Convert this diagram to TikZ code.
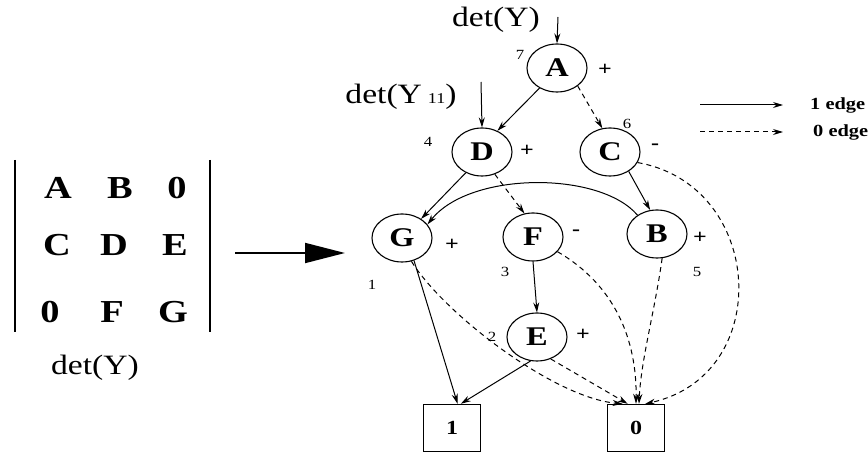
\documentclass[tikz,border=0pt]{standalone}
\usepackage{fontspec}
\setmainfont{Liberation Serif}[FakeStretch=1.2]
\usetikzlibrary{shapes.geometric,arrows.meta}
\begin{document}
\begin{tikzpicture}[x=1pt,y=-1pt,
  st/.style={ellipse,draw,line width=1.1pt,minimum width=60pt,minimum height=48pt,inner sep=0pt,font=\fontsize{27}{27}\selectfont\bfseries},
  term/.style={rectangle,draw,line width=1.4pt,minimum width=57pt,minimum height=47pt,inner sep=0pt,font=\fontsize{20}{20}\selectfont\bfseries},
  one/.style={line width=1pt,-{Stealth[length=10pt,width=6pt]}},
  zero/.style={one,dash pattern=on 5pt off 4pt},
  num/.style={font=\fontsize{14}{14}\selectfont,inner sep=0pt},
  sgn/.style={font=\fontsize{20}{20}\selectfont\bfseries,inner sep=0pt},
  mat/.style={font=\fontsize{32}{32}\selectfont\bfseries,inner sep=0pt},
  big/.style={font=\fontsize{28}{28}\selectfont,inner sep=0pt},
  leg/.style={font=\fontsize{17}{17}\selectfont\bfseries,inner sep=0pt,anchor=west}
]
\useasboundingbox (0,0) rectangle (868,454);

% matrix
\coordinate (bl1) at (15,160); \coordinate (bl2) at (15,332);
\coordinate (br1) at (210,160); \coordinate (br2) at (210,332);
\draw[line width=1.6pt] (bl1) -- (bl2);
\draw[line width=1.6pt] (br1) -- (br2);
\node[mat] (m11) at (58,188) {A};
\node[mat] (m12) at (120,188) {B};
\node[mat] (m13) at (177,188) {0};
\node[mat] (m21) at (57,245) {C};
\node[mat] (m22) at (114,245) {D};
\node[mat] (m23) at (175,245) {E};
\node[mat] (m31) at (50,312) {0};
\node[mat] (m32) at (112,312) {F};
\node[mat] (m33) at (173,312) {G};
\node[big] (detbot) at (95,368) {det(Y)};

% big arrow
\coordinate (bigs) at (235,253); \coordinate (bige) at (345,253);
\draw[line width=1.8pt,-{Triangle[length=40pt,width=20pt]}] (bigs) -- (bige);

% BDD nodes
\node[st] (A) at (557,68) {A};
\node[st] (D) at (482,152) {D};
\node[st] (C) at (610,152) {C};
\node[st] (G) at (402,238) {G};
\node[st] (F) at (533,237) {F};
\node[st] (B) at (657,234) {B};
\node[st] (E) at (537,337) {E};
\node[term] (b1) at (452,428) {1};
\node[term] (b0) at (636,428) {0};

% numbers
\node[num] (n7) at (520,55) {7};
\node[num] (n4) at (428,142) {4};
\node[num] (n6) at (627,124) {6};
\node[num] (n1) at (372,285) {1};
\node[num] (n3) at (505,272) {3};
\node[num] (n5) at (697,272) {5};
\node[num] (n2) at (492,337) {2};

% signs
\node[sgn] (sA) at (605,70) {+};
\node[sgn] (sD) at (527,151) {+};
\node[sgn] (sC) at (655,147) {-};
\node[sgn] (sG) at (452,245) {+};
\node[sgn] (sF) at (576,233) {-};
\node[sgn] (sB) at (700,238) {+};
\node[sgn] (sE) at (583,335) {+};

% entry labels
\node[big] (dettop) at (496,20) {det(Y)};
\coordinate (topin) at (558,17);
\draw[one] (topin) -- (A.north);
\node[big] (det11) at (401,97) {det(Y\hspace{6pt}{\fontsize{15}{15}\selectfont 11})};
\coordinate (din) at (481,82);
\draw[one] (din) -- (D.north);

% edges
\draw[one] (A.229) -- (D.54);
\draw[zero] (A.319) -- (C.108);
\draw[one] (D.232) -- (G.45);
\draw[zero] (D.300) -- (F.110);
\draw[one] (C.314) -- (B.106);
\draw[one] (B.136) .. controls (600,171) and (470,171) .. (G.28);
\draw[one] (F.south) -- (E.north);
\draw[zero] (F.329) .. controls (615,285) and (637,340) .. (b0.90);
\draw[zero] (B.282) .. controls (655,310) and (641,360) .. (b0.83);
\draw[zero] (C.339) .. controls (765,185) and (775,375) .. (b0.69);
\draw[zero] (G.292) .. controls (445,315) and (555,398) .. (b0.119);
\draw[one] (G.298) -- (b1.77);
\draw[one] (E.255) -- (b1.70);
\draw[zero] (E.302) -- (b0.109);

% legend
\coordinate (l1a) at (700,105); \coordinate (l1b) at (783,105);
\coordinate (l0a) at (700,132); \coordinate (l0b) at (783,132);
\draw[one] (l1a) -- (l1b);
\draw[zero] (l0a) -- (l0b);
\node[leg] (leg1) at (810,105) {1 edge};
\node[leg] (leg0) at (813,132) {0 edge};
\end{tikzpicture}
\end{document}
